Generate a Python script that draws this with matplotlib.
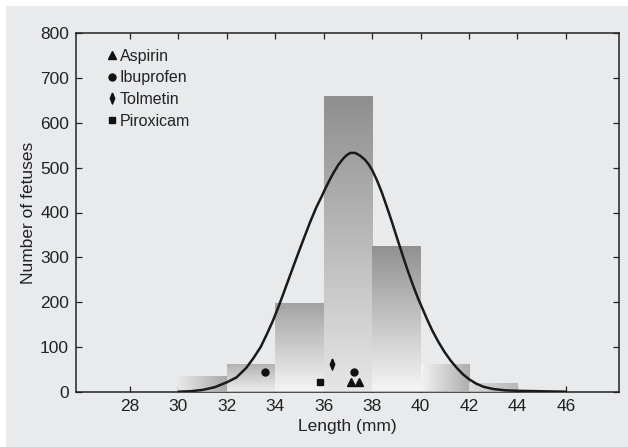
import matplotlib
matplotlib.use("Agg")
import matplotlib.pyplot as plt
import numpy as np
from matplotlib.patches import Rectangle

plt.rcParams['font.family'] = ['Liberation Sans', 'DejaVu Sans']

# histogram of fetus lengths (bin edges in mm, counts)
bin_left = [30, 32, 34, 36, 38, 40, 42]
bin_width = 2
counts = [35, 62, 197, 660, 325, 62, 19]

# fitted curve
curve_x = [30.0, 30.5, 31.0, 31.5, 32.0, 32.4, 32.8, 33.1, 33.4, 33.65, 33.9, 34.15,
           34.35, 34.6, 34.9, 35.2, 35.45, 35.7, 35.9, 36.1, 36.25, 36.4, 36.6, 36.8,
           36.95, 37.1, 37.3, 37.5, 37.7, 37.85, 38.0, 38.2, 38.4, 38.6, 38.8, 39.0,
           39.3, 39.5, 39.7, 39.9, 40.1, 40.3, 40.5, 40.75, 41.0, 41.25, 41.5, 41.75,
           42.0, 42.3, 42.6, 43.0, 43.5, 44.0, 45.0, 46.0]
curve_y = [0, 1, 4, 10, 21, 32, 53, 75, 100, 128, 158, 192, 221, 258, 302, 345, 380,
           412, 434, 457, 473, 488, 506, 520, 528, 533, 533, 527, 518, 508, 495, 472,
           445, 414, 382, 348, 298, 266, 236, 208, 183, 158, 135, 110, 88, 69, 53, 39,
           28, 18, 11, 6, 3, 2, 1, 0]

# single drug cases
aspirin_x = [37.13, 37.44]
aspirin_y = [21, 21]
ibuprofen_x = [33.56, 37.27]
ibuprofen_y = [45, 45]
tolmetin_x = [36.34]
tolmetin_y = [61]
piroxicam_x = [35.86]
piroxicam_y = [21]

# gradient look per bar: (start grey, end grey, direction)
bar_styles = [
    (0.91, 0.66, 'h'),
    (0.70, 0.93, 'v'),
    (0.64, 0.96, 'v'),
    (0.56, 0.90, 'v'),
    (0.57, 0.96, 'v'),
    (0.95, 0.68, 'h'),
    (0.86, 0.72, 'h'),
]

thin_diamond = [(0, 1), (0.4, 0), (0, -1), (-0.4, 0), (0, 1)]

fig = plt.figure(figsize=(6.28, 4.47), dpi=100)
bg = Rectangle((6 / 628, 0), 1, (447 - 6) / 447, transform=fig.transFigure,
               facecolor='#e9eaec', edgecolor='none', zorder=-10)
fig.add_artist(bg)
ax = fig.add_axes([76 / 628, (447 - 391.7) / 447, (619.3 - 76) / 628, (391.7 - 33.3) / 447])
ax.set_facecolor('none')

for left, h, (c0, c1, d) in zip(bin_left, counts, bar_styles):
    t = np.linspace(0, 1, 64)
    if d == 'v':
        g = np.tile((c0 + (c1 - c0) * t)[:, None], (1, 8))
    else:
        g = np.tile((c0 + (c1 - c0) * t)[None, :], (8, 1))
    ax.imshow(g, cmap='gray', vmin=0, vmax=1, extent=(left, left + bin_width, 0, h),
              origin='upper', aspect='auto', interpolation='bilinear', zorder=3)
ax.plot([bin_left[0], bin_left[-1] + bin_width], [0, 0], color='#a9abad', lw=1.2, zorder=3.5)

ax.plot(curve_x, curve_y, color='#1a1a1a', lw=1.8, zorder=4,
        solid_capstyle='round', solid_joinstyle='round')

ax.plot(aspirin_x, aspirin_y, '^', color='#111', ms=6, ls='none', zorder=5, label='Aspirin')
ax.plot(ibuprofen_x, ibuprofen_y, 'o', color='#111', ms=5, ls='none', zorder=5, label='Ibuprofen')
ax.plot(tolmetin_x, tolmetin_y, marker=thin_diamond, color='#111', ms=8, ls='none', zorder=5,
        label='Tolmetin')
ax.plot(piroxicam_x, piroxicam_y, 's', color='#111', ms=4.5, ls='none', zorder=5, label='Piroxicam')

leg = ax.legend(loc='upper left', bbox_to_anchor=(0.047, 0.975), frameon=False, fontsize=11.5,
                handlelength=0.55, handletextpad=0.2, labelspacing=0.42, borderaxespad=0)
for txt in leg.get_texts():
    txt.set_color('#222')

ax.set_xlim(25.77, 48.21)
ax.set_ylim(0, 800)
ax.set_xticks(np.arange(28, 47, 2))
ax.set_yticks(np.arange(0, 801, 100))
ax.tick_params(direction='in', length=4, width=0.9, top=True, right=True,
               labelsize=12.5, colors='#222', pad=5)
for s in ax.spines.values():
    s.set_linewidth(1.1)
    s.set_color('#222')

ax.set_xlabel('Length (mm)', fontsize=12.5, color='#222', labelpad=4)
ax.set_ylabel('Number of fetuses', fontsize=12.5, color='#222', labelpad=3)

fig.savefig('out.png', dpi=100)
